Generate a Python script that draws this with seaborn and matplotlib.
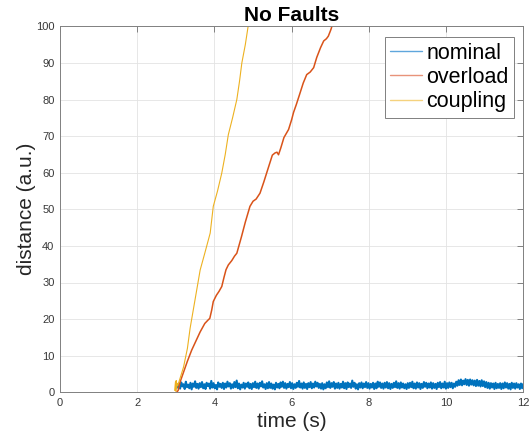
import matplotlib
matplotlib.use('Agg')
import matplotlib.pyplot as plt
import seaborn as sns
import numpy as np
import pandas as pd

# ---- data ----
nominal_values = [
    1.3,2.4,1.0,2.7,1.6,2.2,0.9,2.9,1.4,2.1,1.1,2.6,0.8,2.4,1.5,3.0,1.2,2.3,1.0,2.5,
    1.4,2.8,1.1,2.2,0.9,2.6,1.7,2.4,1.0,3.1,1.3,2.5,1.1,2.0,0.8,2.7,1.5,2.3,1.2,2.6,
    0.9,2.4,1.3,2.9,1.6,2.5,1.0,2.2,1.2,2.8,1.4,3.2,1.1,2.4,0.8,2.1,1.3,2.6,1.0,2.4,
    1.5,2.7,1.1,2.3,0.9,2.5,1.4,2.9,1.2,2.4,1.0,2.6,1.6,3.0,1.3,2.2,0.9,2.5,1.1,2.8,
    1.2,2.4,1.0,2.1,0.8,2.6,1.3,2.3,1.1,2.7,1.5,2.9,1.2,2.5,1.0,2.3,1.4,2.8,1.1,2.5,
    0.9,2.2,1.2,2.6,1.5,3.1,1.3,2.4,1.0,2.7,1.2,2.3,0.9,2.5,1.4,2.8,1.1,2.4,1.3,2.9,
    1.6,2.6,1.2,2.3,1.0,2.5,0.8,2.2,1.1,2.7,1.4,3.0,1.2,2.5,1.5,2.8,1.0,2.4,1.2,2.6,
    1.0,2.3,1.3,2.9,1.1,2.5,0.9,2.7,1.4,2.4,1.2,3.2,1.5,2.6,1.0,2.2,0.8,2.5,1.3,2.7,
    1.1,2.4,1.4,2.8,1.2,2.5,1.0,2.3,1.3,2.6,0.9,2.4,1.1,2.9,1.5,2.7,1.2,2.4,1.0,2.6,
    1.3,2.8,1.1,2.5,0.9,2.3,1.2,2.6,1.4,3.0,1.2,2.5,1.0,2.7,1.3,2.4,1.1,2.2,0.9,2.5,
    1.2,2.6,1.4,2.9,1.1,2.4,1.0,2.7,1.3,2.5,0.9,2.3,1.2,2.8,1.5,2.6,1.1,2.4,1.3,2.7,
    1.0,2.5,1.2,2.3,0.9,2.6,1.4,2.8,1.1,2.4,1.3,2.9,1.0,2.5,1.2,2.7,1.4,2.6,1.1,2.4,
    1.5,2.9,1.8,3.3,2.0,3.5,1.9,3.2,2.2,3.6,2.0,3.4,1.8,3.5,2.1,3.3,1.9,3.2,1.7,3.4,
    1.8,3.1,1.6,3.3,1.7,3.0,1.4,2.8,1.2,2.6,1.0,2.5,1.3,2.4,0.9,2.6,1.1,2.3,1.2,2.5,
    0.9,2.4,1.1,2.7,1.3,2.5,1.0,2.3,0.8,2.6,1.2,2.4,1.0,2.5,1.3,2.2,0.9,2.4,1.1,2.3,
]
nominal_time = np.linspace(3.05, 12.0, len(nominal_values))

overload_time = [3.02, 3.06, 3.11, 3.2, 3.3, 3.41, 3.52, 3.63, 3.75, 3.84, 3.88, 3.93,
                 3.97, 4.05, 4.12, 4.19, 4.25, 4.30, 4.36, 4.45, 4.52, 4.58, 4.62, 4.70,
                 4.80, 4.92, 5.00, 5.08, 5.18, 5.28, 5.40, 5.50, 5.57, 5.62, 5.66, 5.72,
                 5.80, 5.92, 6.00, 6.05, 6.12, 6.20, 6.30, 6.39, 6.48, 6.57, 6.65, 6.75,
                 6.83, 6.90, 6.95, 7.02, 7.07]
overload_values = [0, 0.5, 2.8, 5.5, 8.5, 11.5, 14, 16.5, 18.8, 19.8, 20.2, 22.5,
                   24.8, 26.5, 27.6, 28.9, 31.5, 33.5, 34.8, 36, 37.2, 38, 39.5, 42.5,
                   46.5, 50.8, 52.2, 52.8, 54.4, 57.5, 61.5, 64.8, 65.4, 65.6, 64.9, 66.8,
                   69.6, 71.8, 74.5, 76.5, 78.6, 81.2, 84.5, 86.8, 87.5, 88.7, 91.5, 94.2,
                   96, 96.6, 97.3, 99.2, 101]

coupling_time = [2.97, 2.99, 3.0, 3.01, 3.02, 3.03, 3.05, 3.1, 3.2, 3.3, 3.37, 3.46,
                 3.55, 3.63, 3.75, 3.89, 3.97, 4.08, 4.19, 4.28, 4.36, 4.47, 4.58,
                 4.65, 4.71, 4.8, 4.88]
coupling_values = [0.5, 2.8, 0.3, 3.2, 1.0, 2.5, 1.8, 3.5, 6.9, 12, 17.5, 23,
                   28.5, 33.4, 38, 43.5, 50.8, 55, 59.9, 65, 70.4, 75, 80,
                   85, 90, 95, 100.5]

series_names = ['nominal', 'overload', 'coupling']
colors = ['#0072BD', '#D95319', '#EDB120']
legend_colors = ['#5fa6dc', '#e8937a', '#f5d27e']
x_ticks = [0, 2, 4, 6, 8, 10, 12]
y_ticks = [0, 10, 20, 30, 40, 50, 60, 70, 80, 90, 100]

# ---- style ----
sns.set_theme(style='whitegrid')
plt.rcParams['font.family'] = ['Liberation Sans', 'DejaVu Sans']
plt.rcParams['path.simplify'] = False

fig = plt.figure(figsize=(5.31, 4.38), dpi=100)
ax = fig.add_axes([60/531, 1 - 392.3/438, 463.3/531, 366/438])
ax.set_facecolor('white')

dfs = [
    pd.DataFrame({'t': nominal_time, 'd': nominal_values}),
    pd.DataFrame({'t': overload_time, 'd': overload_values}),
    pd.DataFrame({'t': coupling_time, 'd': coupling_values}),
]
widths = [1.5, 1.1, 0.8]
for df, name, c, lw in zip(dfs, series_names, colors, widths):
    sns.lineplot(data=df, x='t', y='d', ax=ax, color=c, lw=lw, label=name,
                 estimator=None, sort=False)

ax.set_xlim(0, 12)
ax.set_ylim(0, 100)
ax.set_xticks(x_ticks)
ax.set_yticks(y_ticks)
ax.grid(True, color='#e3e3e3', lw=0.6)
ax.tick_params(direction='in', top=True, right=True, length=4, width=0.6,
               color='#707070', labelsize=8, labelcolor='#383838', pad=4)
for s in ax.spines.values():
    s.set_color('#808080')
    s.set_linewidth(0.7)

ax.set_xlabel('time (s)', fontsize=15, color='#262626', labelpad=3)
ax.set_ylabel('distance (a.u.)', fontsize=15, color='#262626', labelpad=0)
ax.set_title('No Faults', fontsize=15, fontweight='bold', color='black', pad=4)

leg = ax.legend(loc='upper right', bbox_to_anchor=(0.9805, 0.970), fontsize=15.5,
                frameon=True, fancybox=False, framealpha=1, edgecolor='#808080',
                handlelength=1.5, handletextpad=0.2, labelspacing=0.15,
                borderpad=0.25, borderaxespad=0)
leg.get_frame().set_linewidth(0.7)
for line, lc in zip(leg.get_lines(), legend_colors):
    line.set_linewidth(1.0)
    line.set_color(lc)
for t in leg.get_texts():
    t.set_color('black')

fig.savefig('out.png', dpi=100)
